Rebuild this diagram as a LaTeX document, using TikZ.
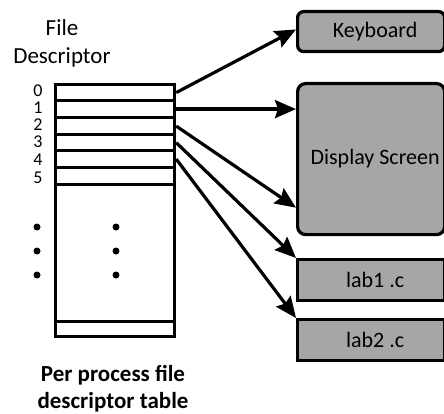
\documentclass[tikz,border=0pt]{standalone}
\usepackage{fontspec}
\setmainfont{Carlito}
\usetikzlibrary{arrows.meta,calc}
\definecolor{boxgray}{HTML}{A6A6A6}
\tikzset{
  cell/.style={draw, line width=3.2pt, minimum width=119pt, inner sep=0pt, anchor=north west},
  device/.style={draw, line width=3.2pt, fill=boxgray, minimum width=147pt, inner sep=0pt, anchor=north west},
  devtext/.style={font=\fontsize{22}{26}\selectfont},
  idx/.style={font=\fontsize{18}{20}\selectfont, anchor=base},
  caption/.style={font=\fontsize{23}{26}\selectfont, anchor=base},
  ptr/.style={line width=3.2pt, -{Stealth[length=21pt, width=18pt, inset=3pt]}},
  dot/.style={circle, fill=black, inner sep=0pt, minimum size=7pt}
}
\begin{document}
\begin{tikzpicture}[x=1pt, y=-1pt]
\useasboundingbox (0,0) rectangle (444,414);

% header
\node[caption] (hd1) at (62,36) {File};
\node[caption] (hd2) at (62,64) {Descriptor};

% descriptor table rows
\node[cell, minimum height=16pt]   (r0) at (54,83)  {};
\node[cell, minimum height=17pt]   (r1) at (54,99)  {};
\node[cell, minimum height=17pt]   (r2) at (54,116) {};
\node[cell, minimum height=16pt]   (r3) at (54,133) {};
\node[cell, minimum height=17pt]   (r4) at (54,149) {};
\node[cell, minimum height=17pt]   (r5) at (54,166) {};
\node[cell, minimum height=137pt]  (rest) at (54,183) {};
\node[cell, minimum height=15pt]   (rlast) at (54,320) {};

% indices
\node[idx] (i0) at (38,97)  {0};
\node[idx] (i1) at (38,114) {1};
\node[idx] (i2) at (38,131) {2};
\node[idx] (i3) at (38,148) {3};
\node[idx] (i4) at (38,166) {4};
\node[idx] (i5) at (38,184) {5};

% ellipsis dots
\foreach \yy [count=\k] in {227,251,275} {
  \node[dot] (ld\k) at (37,\yy) {};
  \node[dot] (md\k) at (116,\yy) {};
}

% caption
\node[caption] (cap1) at (113,381) {\bfseries Per process file};
\node[caption] (cap2) at (113,408) {\bfseries descriptor table};

% devices and files
\node[device, rounded corners=6pt, minimum height=40pt,
      label={[devtext, xshift=4pt]center:Keyboard}] (kb) at (296,10) {};
\node[device, rounded corners=8pt, minimum height=151pt,
      label={[devtext, xshift=4pt]center:Display Screen}] (ds) at (296,82) {};
\node[device, minimum height=41pt,
      label={[devtext, xshift=4pt]center:lab1 .c}] (f1) at (296,258) {};
\node[device, minimum height=41pt,
      label={[devtext, xshift=4pt]center:lab2 .c}] (f2) at (296,318) {};

% pointers
\draw[ptr] (r0.east) -- ($(kb.north west)!0.45!(kb.south west)$);
\draw[ptr] (r1.east) -- (ds.west |- r1.east);
\draw[ptr] (r2.east) -- ($(ds.north west)!0.815!(ds.south west)$);
\draw[ptr] (r3.east) -- (f1.north west);
\draw[ptr] (r4.east) -- (f2.north west);
\end{tikzpicture}
\end{document}
